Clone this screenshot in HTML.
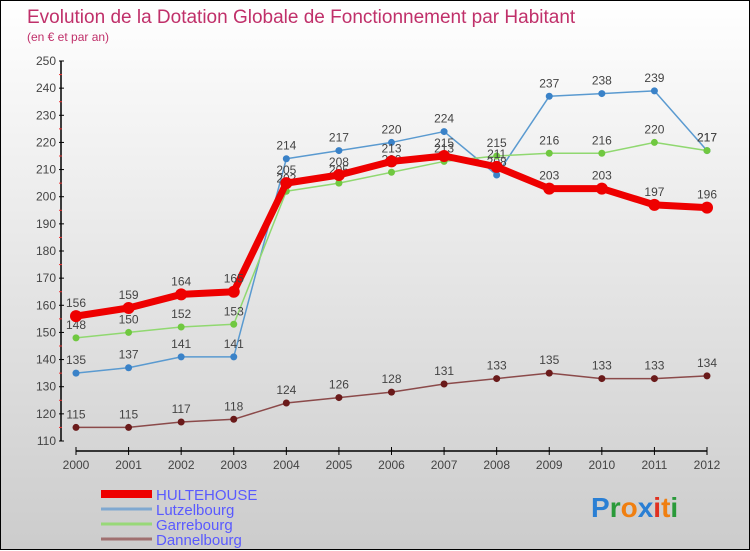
<!DOCTYPE html>
<html><head><meta charset="utf-8"><style>
body{margin:0;}
#c{width:748px;height:548px;border:1px solid #000;background:linear-gradient(#fff,#ccc);position:relative;font-family:"Liberation Sans",sans-serif;}
svg{position:absolute;left:0;top:0}
</style></head><body>
<div id="c">
<svg id="s" width="750" height="550">
<text x="26" y="22" font-size="19" fill="#c0306a">Evolution de la Dotation Globale de Fonctionnement par Habitant</text>
<text x="26" y="40" font-size="12" fill="#c0306a">(en € et par an)</text>
<text x="590" y="516" font-size="28" font-weight="bold"><tspan fill="#2a7fd4">P</tspan><tspan fill="#2a9a3a">r</tspan><tspan fill="#f07f10">o</tspan><tspan fill="#2a7fd4">x</tspan><tspan fill="#e03020">i</tspan><tspan fill="#f07f10">t</tspan><tspan fill="#2a9a3a">i</tspan></text>
</svg>
</div>
<script>
const years=["2000","2001","2002","2003","2004","2005","2006","2007","2008","2009","2010","2011","2012"];
const hultehouse=[156,159,164,165,205,208,213,215,211,203,203,197,196];
const lutzelbourg=[135,137,141,141,214,217,220,224,208,237,238,239,217];
const garrebourg=[148,150,152,153,202,205,209,213,215,216,216,220,217];
const dannelbourg=[115,115,117,118,124,126,128,131,133,135,133,133,134];
const yTicks=[110,120,130,140,150,160,170,180,190,200,210,220,230,240,250];
const NS="http://www.w3.org/2000/svg";
const s=document.getElementById('s');
const X=i=>75+i*(706-75)/(years.length-1);
const Y=v=>440-(v-110)*380/140;
function mk(t,a){const e=document.createElementNS(NS,t);for(const k in a)e.setAttribute(k,a[k]);s.appendChild(e);return e;}
let e=mk('line',{x1:60,y1:60,x2:60,y2:440,stroke:'#000','stroke-width':1.5});


e=mk('line',{x1:75,y1:450,x2:706,y2:450,stroke:'#000','stroke-width':1.5});


yTicks.forEach(v=>{
 mk('line',{x1:58,x2:63,y1:Y(v),y2:Y(v),stroke:'#000'});
 if(v<250) mk('line',{x1:58,x2:61,y1:Y(v+5),y2:Y(v+5),stroke:'#e33'});
 const t=mk('text',{x:55,y:Y(v)+4,'font-size':12,fill:'#444','text-anchor':'end'});
 t.textContent=v;
 
 
});
years.forEach((y,i)=>{
 mk('line',{x1:X(i),x2:X(i),y1:446,y2:454,stroke:'#000'});
 const t=mk('text',{x:X(i),y:468,'font-size':12,fill:'#444','text-anchor':'middle'});
 t.textContent=y;
 
 
});
function series(d,col,w,r,dot,name){
 const p=mk('polyline',{points:d.map((v,i)=>X(i)+','+Y(v)).join(' '),fill:'none',stroke:col,'stroke-width':w,'stroke-linejoin':'round'});
 
 
 d.forEach((v,i)=>{
  const c=mk('circle',{cx:X(i),cy:Y(v),r:r,fill:dot});
  
  
  const t=mk('text',{x:X(i),y:Y(v)-9,'font-size':12,fill:'#444','text-anchor':'middle'});
  t.textContent=v;
  
  
 });
}
series(dannelbourg,'#8b4a4a',1.5,3.5,'#6a1a1a','dannelbourg');
series(lutzelbourg,'#5a9ad0',1.5,3.5,'#3a82c8','lutzelbourg');
series(garrebourg,'#90d870',1.5,3.5,'#70c840','garrebourg');
series(hultehouse,'#ee0000',7,6,'#ee0000','hultehouse');
const leg=[['HULTEHOUSE','#ee0000',8],['Lutzelbourg','#80a8d0',3],['Garrebourg','#98d878',3],['Dannelbourg','#a07070',3]];
leg.forEach((l,i)=>{
 const y=493+i*15;
 const ln=mk('line',{x1:100,x2:151,y1:y,y2:y,stroke:l[1],'stroke-width':l[2]});
 
 
 const t=mk('text',{x:155,y:y+6,'font-size':15,fill:'#5a5aff'});
 t.textContent=l[0];
 
 
});
</script>
</body></html>
